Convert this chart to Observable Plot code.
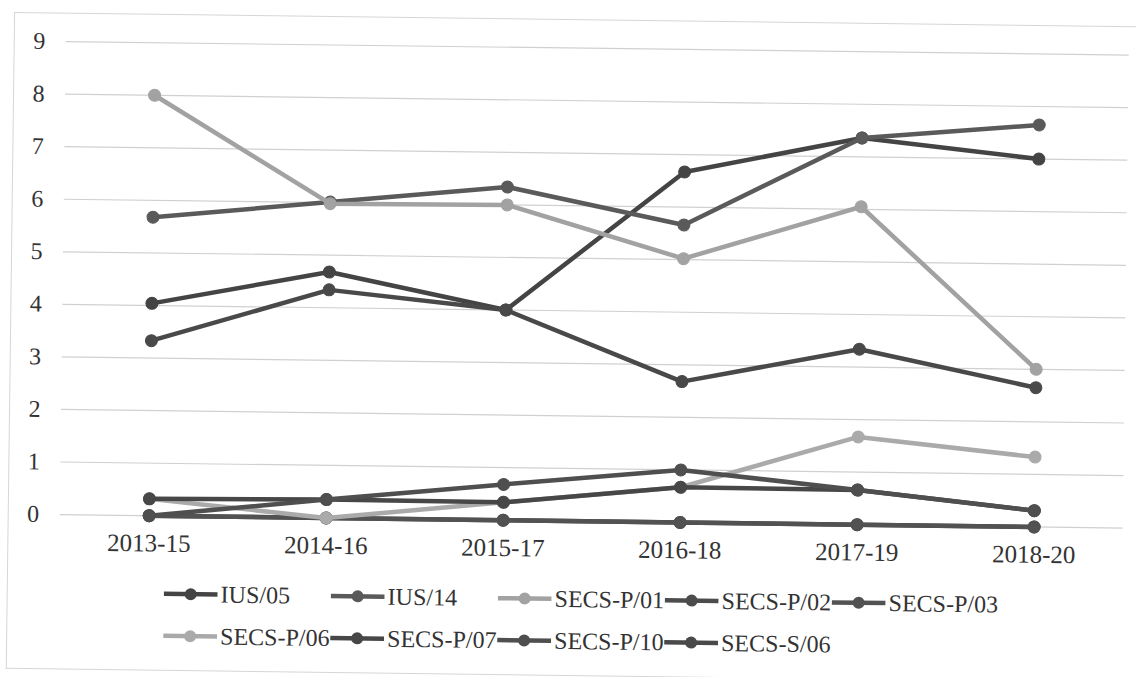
<!DOCTYPE html>
<html><head><meta charset="utf-8">
<script src="https://cdn.jsdelivr.net/npm/d3@7"></script>
<script src="https://cdn.jsdelivr.net/npm/@observablehq/plot@0.6"></script>
<style>
html,body{margin:0;padding:0;background:#fff;overflow:hidden;}
#page{position:relative;width:1136px;height:677px;transform:rotate(0.73deg);transform-origin:568px 338px;font-family:"Liberation Serif",serif;color:#333;}
#frame{position:absolute;left:10px;top:19px;width:1140px;height:657px;border:1px solid #d6d6d6;border-right:none;box-sizing:border-box;}
#chart{position:absolute;left:0;top:0;}
#legend{position:absolute;left:167px;top:578px;display:grid;grid-template-columns:repeat(5,167px);grid-auto-rows:42px;}
.item{display:flex;align-items:center;white-space:nowrap;font-size:24px;}
.item svg{flex:none;margin-right:3px;}
</style></head><body>
<div id="page"><div id="frame"></div><div id="chart"></div><div id="legend"></div></div>
<script>
const periods = ["2013-15","2014-16","2015-17","2016-18","2017-19","2018-20"];
const yTicks = [0,1,2,3,4,5,6,7,8,9];
const seriesNames = ["IUS/05","IUS/14","SECS-P/01","SECS-P/02","SECS-P/03","SECS-P/06","SECS-P/07","SECS-P/10","SECS-S/06"];
const ius05   = [4.04, 4.68, 4.00, 6.67, 7.36, 7.00];
const ius14   = [5.68, 6.01, 6.34, 5.66, 7.36, 7.65];
const secsP01 = [8.00, 5.98, 6.00, 5.02, 6.05, 3.00];
const secsP02 = [0, 0, 0, 0, 0, 0];
const secsP03 = [0, 0, 0, 0, 0, 0];
const secsP06 = [0.32, 0.00, 0.34, 0.67, 1.67, 1.33];
const secsP07 = [0.32, 0.35, 0.34, 0.67, 0.66, 0.31];
const secsP10 = [0.00, 0.35, 0.68, 1.00, 0.66, 0.31];
const secsS06 = [3.33, 4.34, 4.00, 2.68, 3.34, 2.65];
const seriesValues = [ius05, ius14, secsP01, secsP02, secsP03, secsP06, secsP07, secsP10, secsS06];
const seriesColors = ["#444444","#5a5a5a","#a2a2a2","#4c4c4c","#525252","#aaaaaa","#474747","#4f4f4f","#494949"];

const rows = seriesNames.flatMap((name, i) => periods.map((p, j) => ({series: name, period: p, value: seriesValues[i][j]})));

const chart = Plot.plot({
  width: 1136, height: 560,
  marginLeft: 62, marginRight: 11, marginTop: 47.5, marginBottom: 39.5,
  style: {fontFamily: '"Liberation Serif", serif', fontSize: "24px", color: "#333", background: "transparent", overflow: "visible"},
  x: {type: "point", domain: periods, padding: 0.5, label: null},
  y: {domain: [0, 9], label: null},
  marks: [
    Plot.gridY(yTicks, {stroke: "#d0d0d0", strokeOpacity: 1, strokeWidth: 1.2}),
    Plot.axisY(yTicks, {tickSize: 0, tickPadding: 21, label: null, tickFormat: d3.format("d"), fontSize: 24}),
    Plot.axisX({tickSize: 0, tickPadding: 18, label: null, fontSize: 25}),
    ...seriesNames.flatMap((name, i) => {
      const d = rows.filter(r => r.series === name);
      return [
        Plot.line(d, {x: "period", y: "value", stroke: seriesColors[i], strokeWidth: 4.5}),
        Plot.dot(d, {x: "period", y: "value", r: 6, fill: seriesColors[i], stroke: seriesColors[i], strokeWidth: 1})
      ];
    })
  ]
});
document.getElementById("chart").appendChild(chart);

const legend = document.getElementById("legend");
seriesNames.forEach((name, i) => {
  const item = document.createElement("div");
  item.className = "item";
  const ns = "http://www.w3.org/2000/svg";
  const sw = document.createElementNS(ns, "svg");
  sw.setAttribute("width", 54); sw.setAttribute("height", 16);
  const ln = document.createElementNS(ns, "line");
  ln.setAttribute("x1", 0); ln.setAttribute("x2", 54); ln.setAttribute("y1", 8); ln.setAttribute("y2", 8);
  ln.setAttribute("stroke", seriesColors[i]); ln.setAttribute("stroke-width", 4.5);
  const c = document.createElementNS(ns, "circle");
  c.setAttribute("cx", 27); c.setAttribute("cy", 8); c.setAttribute("r", 6); c.setAttribute("fill", seriesColors[i]);
  sw.appendChild(ln); sw.appendChild(c);
  const t = document.createElement("span");
  t.textContent = name;
  item.appendChild(sw); item.appendChild(t);
  legend.appendChild(item);
});
</script>
</body></html>
